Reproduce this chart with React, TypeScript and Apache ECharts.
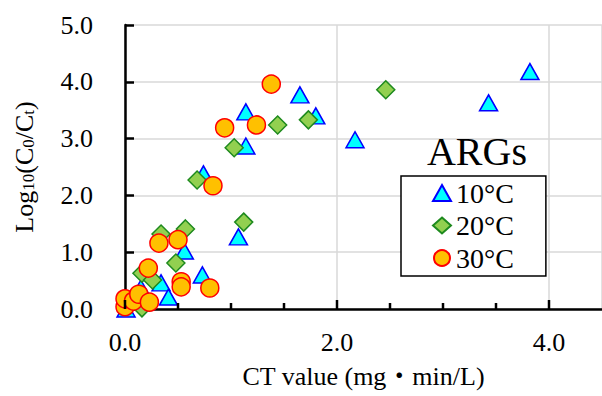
import React, { useEffect, useRef } from "react";
import * as echarts from "echarts";

const FONT = "'Liberation Serif', 'Times New Roman', 'Noto Sans CJK JP', serif";

const seriesNames = ["10°C", "20°C", "30°C"];

const t10X = [0.01, 0.15, 0.34, 0.41, 0.56, 0.73, 0.74, 1.07, 1.14, 1.14, 1.65, 1.80, 2.17, 3.43, 3.82];
const t10Y = [0.00, 0.37, 0.46, 0.21, 1.02, 0.60, 2.38, 1.27, 2.87, 3.47, 3.77, 3.40, 2.98, 3.63, 4.18];

const t20X = [0.16, 0.16, 0.26, 0.34, 0.48, 0.57, 0.68, 1.03, 1.12, 1.44, 1.73, 2.46];
const t20Y = [0.02, 0.63, 0.51, 1.32, 0.81, 1.41, 2.27, 2.84, 1.53, 3.24, 3.33, 3.86];

const t30X = [0.00, 0.00, 0.08, 0.13, 0.23, 0.22, 0.32, 0.50, 0.53, 0.53, 0.80, 0.83, 0.94, 1.24, 1.38];
const t30Y = [0.04, 0.18, 0.14, 0.26, 0.12, 0.72, 1.16, 1.22, 0.48, 0.39, 0.37, 2.17, 3.19, 3.24, 3.96];

const xMajorTicks = [0, 2, 4];
const xMinorTicks = [0.5, 1.0, 1.5, 2.5, 3.0, 3.5];
const xMax = 4.5;
const yTicks = [0, 1, 2, 3, 4, 5];

const zip = (xs: number[], ys: number[]) => xs.map((x, i) => [x, ys[i]]);

export default function App() {
  const ref = useRef<HTMLDivElement>(null);
  useEffect(() => {
    document.body.style.margin = "0";
    const chart = echarts.init(ref.current!, null, { renderer: "svg" });
    const option: any = {
      animation: false,
      grid: { left: 124, top: 25, width: 481.5, height: 284 },
      xAxis: {
        type: "value",
        min: xMajorTicks[0],
        max: xMax,
        interval: 2,
        name: "CT value (mg・min/L)",
        nameLocation: "middle",
        nameGap: 54,
        nameTextStyle: { fontFamily: FONT, fontSize: 26, color: "#000" },
        axisLine: { show: true, lineStyle: { color: "#000", width: 2.5 } },
        axisTick: { show: false },
        axisLabel: {
          fontFamily: FONT, fontSize: 26, color: "#000", margin: 20,
          showMaxLabel: false,
          formatter: (v: number) => v.toFixed(1),
        },
        splitLine: { show: true, lineStyle: { color: "#d9d9d9", width: 1.5 } },
      },
      yAxis: {
        type: "value",
        min: yTicks[0],
        max: yTicks[yTicks.length - 1],
        interval: 1,
        name: "{a|Log}{s|10}{a|(C}{s|0}{a|/C}{s|t}{a|)}",
        nameLocation: "middle",
        nameRotate: 90,
        nameGap: 88,
        nameTextStyle: {
          rich: {
            a: { fontFamily: FONT, fontSize: 26, color: "#000", lineHeight: 26, verticalAlign: "top" },
            s: { fontFamily: FONT, fontSize: 17, color: "#000", lineHeight: 17, verticalAlign: "bottom", padding: [12, 0, 0, 0] },
          },
        },
        axisLine: { show: true, lineStyle: { color: "#000", width: 2.5 } },
        axisTick: { show: true, inside: true, length: 9, lineStyle: { color: "#000", width: 2.5 } },
        axisLabel: {
          fontFamily: FONT, fontSize: 26, color: "#000", margin: 32,
          formatter: (v: number) => v.toFixed(1),
        },
        splitLine: { show: true, lineStyle: { color: "#d9d9d9", width: 1.5 } },
      },
      legend: {
        orient: "vertical",
        left: 401,
        top: 176,
        padding: [3, 32, 4, 31],
        itemGap: 4.5,
        itemWidth: 18,
        itemHeight: 16,
        backgroundColor: "#fff",
        borderColor: "#000",
        borderWidth: 1.5,
        borderRadius: 0,
        textStyle: { fontFamily: FONT, fontSize: 28, color: "#000" },
        data: [
          { name: seriesNames[0], icon: "triangle" },
          { name: seriesNames[1], icon: "diamond" },
          { name: seriesNames[2], icon: "circle" },
        ],
      },
      graphic: [
        {
          type: "text",
          x: 477,
          y: 151,
          style: {
            text: "ARGs",
            fontFamily: FONT,
            fontSize: 40,
            fill: "#000",
            textAlign: "center",
            textVerticalAlign: "middle",
          },
          z: 100,
        },
      ],
      series: [
        {
          name: "xMajorTickMarks",
          type: "scatter",
          silent: true,
          clip: false,
          symbol: "rect",
          symbolSize: [2.5, 9],
          symbolOffset: [0, -4.5],
          data: xMajorTicks.map((v) => [v, 0]),
          itemStyle: { color: "#000", opacity: 1 },
          z: 6,
        },
        {
          name: "xMinorTickMarks",
          type: "scatter",
          silent: true,
          clip: false,
          symbol: "rect",
          symbolSize: [2.5, 6],
          symbolOffset: [0, -3],
          data: xMinorTicks.map((v) => [v, 0]),
          itemStyle: { color: "#000", opacity: 1 },
          z: 6,
        },
        {
          name: seriesNames[0],
          type: "scatter",
          symbol: "triangle",
          symbolSize: [18, 16],
          data: zip(t10X, t10Y),
          itemStyle: { color: "#00ffff", borderColor: "#0000ff", borderWidth: 1.5, opacity: 1 },
          z: 2,
        },
        {
          name: seriesNames[1],
          type: "scatter",
          symbol: "diamond",
          symbolSize: [18, 18],
          data: zip(t20X, t20Y),
          itemStyle: { color: "#92d050", borderColor: "#1e8a1e", borderWidth: 1.5, opacity: 1 },
          z: 3,
        },
        {
          name: seriesNames[2],
          type: "scatter",
          symbol: "circle",
          symbolSize: 18,
          data: zip(t30X, t30Y),
          itemStyle: { color: "#ffc000", borderColor: "#ff0000", borderWidth: 1.5, opacity: 1 },
          z: 4,
        },
      ],
    };
    chart.setOption(option);
    return () => chart.dispose();
  }, []);
  return <div ref={ref} style={{ width: 602, height: 396 }} />;
}
